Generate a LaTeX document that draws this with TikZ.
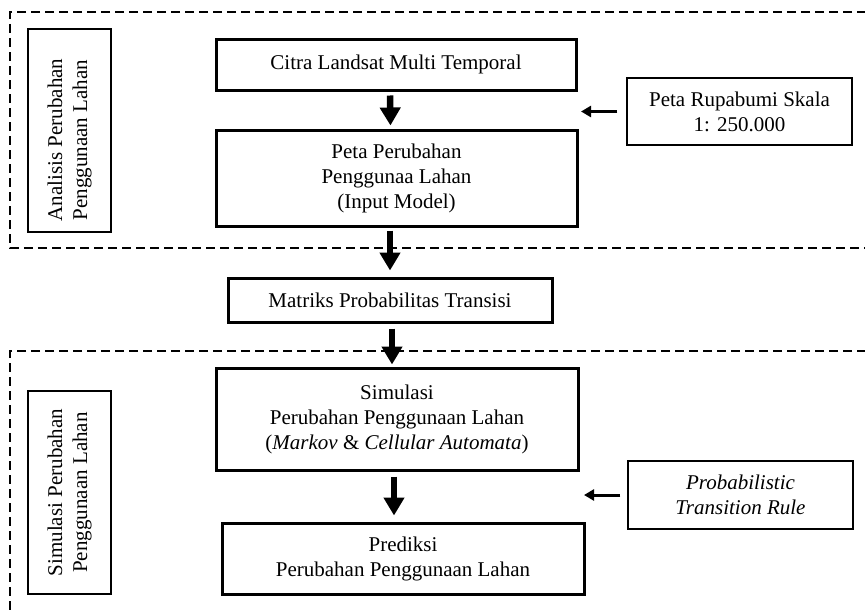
\documentclass[tikz,border=0pt]{standalone}
\usepackage{fontspec}
\setmainfont{Liberation Serif}
\usetikzlibrary{arrows.meta}

\tikzset{
  mainbox/.style={draw, line width=3pt, align=center, inner sep=0pt, font=\fontsize{21}{25}\selectfont},
  sidebox/.style={draw, line width=1.4pt, align=center, inner sep=0pt, font=\fontsize{21}{25}\selectfont},
  labeltext/.style={align=center, inner sep=0pt, rotate=90, font=\fontsize{21}{25}\selectfont},
  bigarrow/.style={line width=6.5pt, -{Triangle[width=20pt,length=18pt]}},
  smallarrow/.style={line width=3pt, -{Triangle[width=11pt,length=10pt]}},
  groupline/.style={line width=1.6pt, dash pattern={on 9pt off 5pt}}
}

\begin{document}
\begin{tikzpicture}[x=1pt,y=1pt,yscale=-1,xscale=1]
\useasboundingbox (0,0) rectangle (865,613);

%Dashed groups
\draw [groupline] (866,12) -- (10,12) -- (10,248) -- (866,248);
\draw [groupline] (866,351) -- (10,351) -- (10,614);

%Group labels
\draw [line width=1.4pt] (28,29) rectangle (111,232);
\node [labeltext] (analisis) at (69.5,140) {Analisis Perubahan\\Penggunaan Lahan};
\draw [line width=1.4pt] (28,391) rectangle (111,594);
\node [labeltext] (simlabel) at (69.5,492.5) {Simulasi Perubahan\\Penggunaan Lahan};

%Main boxes
\node [mainbox, minimum width=360pt, minimum height=51pt] (citra) at (396,64.5) {Citra Landsat Multi Temporal};
\node [mainbox, minimum width=361pt, minimum height=96pt] (peta) at (396.5,178) {Peta Perubahan\\Penggunaa Lahan\\(Input Model)};
\node [mainbox, minimum width=324pt, minimum height=44pt] (matriks) at (390,300) {Matriks Probabilitas Transisi};
\node [mainbox, minimum width=362pt, minimum height=102pt] (simulasi) at (397,419) {Simulasi\\Perubahan Penggunaan Lahan\\(\textit{Markov} \& \textit{Cellular Automata})};
\node [mainbox, minimum width=362pt, minimum height=71pt] (prediksi) at (403,558.5) {Prediksi\\Perubahan Penggunaan Lahan};

%Input boxes
\node [sidebox, minimum width=225pt, minimum height=67pt] (rupabumi) at (739.5,111.5) {Peta Rupabumi Skala\\1: 250.000};
\node [sidebox, minimum width=225pt, minimum height=68pt] (rule) at (740.5,495) {\textit{Probabilistic}\\\textit{Transition Rule}};
\coordinate (rupabumi tip) at (581,111.5);
\coordinate (rule tip) at (584,495);

%Arrows
\draw [bigarrow, shorten <=4pt, shorten >=3pt] ([xshift=-6pt]citra.south) -- ([xshift=-6pt]peta.north);
\draw [bigarrow, shorten <=3pt, shorten >=6pt] (peta.south -| matriks) -- (matriks.north);
\draw [bigarrow, shorten <=5pt, shorten >=2pt] ([xshift=2pt]matriks.south) -- ([xshift=2pt]matriks.south |- simulasi.north);
\draw [bigarrow, shorten <=5pt, shorten >=6pt] ([xshift=-3pt]simulasi.south) -- ([xshift=-3pt]simulasi.south |- prediksi.north);
\draw [smallarrow, shorten <=9pt] (rupabumi.west) -- (rupabumi tip);
\draw [smallarrow, shorten <=7pt] (rule.west) -- (rule tip);

\end{tikzpicture}
\end{document}
